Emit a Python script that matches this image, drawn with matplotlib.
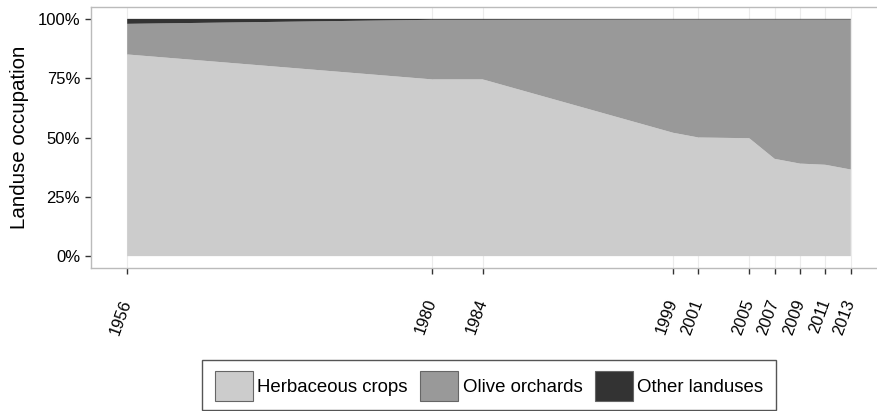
import matplotlib
matplotlib.use("Agg")
from matplotlib import pyplot as plt
from matplotlib.ticker import PercentFormatter
from matplotlib.patches import Rectangle

plt.rcParams["font.family"] = ["Liberation Sans", "DejaVu Sans"]

# Landuse shares (fractions of the total area)
years = [1956, 1980, 1984, 1999, 2001, 2005, 2007, 2009, 2011, 2013]
herbaceous = [0.850, 0.745, 0.745, 0.520, 0.500, 0.497, 0.410, 0.390, 0.385, 0.365]
other = [0.021, 0.004, 0.004, 0.003, 0.003, 0.003, 0.003, 0.003, 0.003, 0.003]
olive = [1 - h - o for h, o in zip(herbaceous, other)]

labels = ["Herbaceous crops", "Olive orchards", "Other landuses"]
colors = ["#cccccc", "#999999", "#333333"]

W, H = 877, 411
fig = plt.figure(figsize=(W/100, H/100), dpi=100)
ax = fig.add_axes([91/W, 1 - 268/H, (887-91)/W, (268-7)/H])

ax.stackplot(years, herbaceous, olive, other, colors=colors, labels=labels, zorder=2)

span = years[-1] - years[0]
ax.set_xlim(years[0] - 0.05*span, years[-1] + 0.05*span)
ax.set_ylim(-0.05, 1.05)

ax.set_xticks(years)
ax.set_xticklabels([str(y) for y in years], rotation=70, ha="right", va="center",
                   rotation_mode="anchor", fontsize=11.8)
ax.set_yticks([0, 0.25, 0.5, 0.75, 1.0])
ax.yaxis.set_major_formatter(PercentFormatter(1.0, decimals=0))
ax.tick_params(axis="y", labelsize=12, length=4.3, width=1, color="#333333", pad=3.6)
ax.tick_params(axis="x", length=4.3, width=1, color="#333333", pad=18.5)

ax.grid(axis="x", color="#ebebeb", lw=0.8, zorder=0)
ax.set_axisbelow(True)
for s in ["left", "top", "bottom"]:
    ax.spines[s].set_color("#bbbbbb")
    ax.spines[s].set_linewidth(1)
ax.spines["right"].set_visible(False)

ax.set_ylabel("Landuse occupation", fontsize=14.8, labelpad=6)

# legend without its own frame, box drawn separately (wider side padding)
fs = 13.4
leg = fig.legend(loc="center", bbox_to_anchor=(489/W, 1 - 386/H), ncol=3,
                 fontsize=fs, frameon=False, handlelength=2.04,
                 handleheight=2.04, handletextpad=0.25, columnspacing=0.66,
                 borderpad=0.0, borderaxespad=0.0)
for p in leg.get_patches():
    p.set_edgecolor("#666666")
    p.set_linewidth(0.8)
fig.patches.append(Rectangle((202/W, 1 - 410/H), (776-202)/W, 50/H,
                             transform=fig.transFigure, fill=False,
                             edgecolor="#555555", lw=1))

fig.savefig("out.png", dpi=100)
